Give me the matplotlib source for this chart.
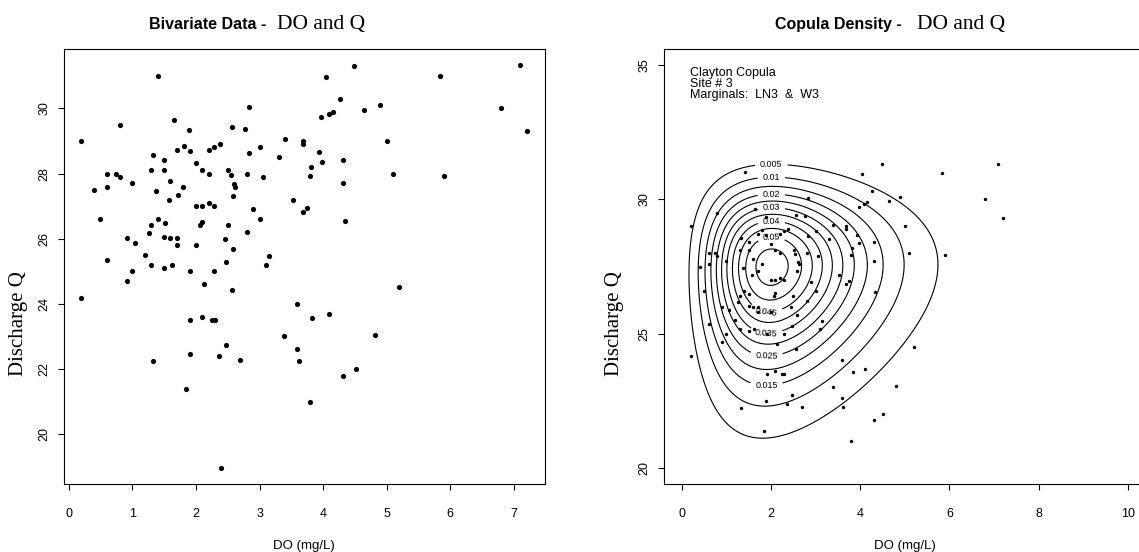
import math
import numpy as np
import matplotlib
matplotlib.use("Agg")
import matplotlib.pyplot as plt

plt.rcParams['font.family'] = ['Liberation Sans', 'DejaVu Sans']

# observed data: dissolved oxygen (mg/L) and discharge
do_vals = [1.41, 2.83, 1.65, 0.80, 1.89, 2.56, 2.77, 0.20, 3.40, 3.69,
           3.69, 1.32, 1.70, 1.81, 1.90, 2.20, 2.29, 2.38, 2.83, 3.00,
           3.30, 1.50, 2.00, 1.30, 1.50, 2.09, 2.20, 2.51, 2.55, 2.80,
           3.05, 0.61, 0.74, 0.80, 1.00, 0.40, 0.61, 1.60, 1.80, 1.38,
           1.72, 1.57, 2.60, 2.62, 2.59, 2.00, 2.09, 2.20, 2.29, 2.89,
           0.50, 1.40, 1.30, 1.52, 2.06, 2.09, 2.50, 3.00, 1.26, 2.80,
           0.91, 1.05, 1.50, 1.60, 1.70, 1.70, 2.00, 2.45, 2.59, 1.20,
           3.15, 0.61, 3.53, 3.69, 3.74,
           4.48, 4.05, 5.84, 7.09, 4.27, 3.97, 4.09, 4.15, 4.64, 4.89,
           6.79, 7.20, 5.00, 3.94, 3.98, 4.31, 3.81, 3.80, 4.31, 5.10,
           5.90, 4.34,
           1.30, 1.50, 1.62, 1.00, 0.91, 1.91, 2.29, 2.47, 3.10, 2.13,
           2.56, 0.20, 3.59, 1.91, 2.09, 2.25, 2.30, 3.39, 2.47, 1.90,
           2.37, 2.70, 3.59, 3.62, 1.32, 1.85, 3.79, 2.39,
           5.20, 3.83, 4.10, 4.81, 4.51, 4.31]
q_vals = [31.01, 30.04, 29.66, 29.50, 29.35, 29.43, 29.37, 28.99, 29.06, 28.99,
          28.91, 28.57, 28.72, 28.86, 28.69, 28.72, 28.81, 28.91, 28.63, 28.81,
          28.51, 28.42, 28.32, 28.11, 28.11, 28.11, 27.99, 28.11, 27.95, 27.99,
          27.89, 27.99, 27.99, 27.89, 27.71, 27.50, 27.60, 27.77, 27.60, 27.46,
          27.34, 27.19, 27.67, 27.58, 27.32, 27.00, 27.00, 27.09, 27.00, 26.91,
          26.60, 26.60, 26.42, 26.48, 26.42, 26.51, 26.42, 26.60, 26.18, 26.20,
          26.01, 25.87, 26.04, 26.01, 26.01, 25.80, 25.80, 25.99, 25.69, 25.50,
          25.46, 25.35, 27.18, 26.83, 26.95,
          31.30, 30.96, 30.99, 31.33, 30.30, 29.73, 29.83, 29.90, 29.95, 30.10,
          30.01, 29.32, 29.01, 28.66, 28.36, 28.42, 28.20, 27.92, 27.71, 27.99,
          27.92, 26.54,
          25.19, 25.09, 25.19, 25.00, 24.70, 25.00, 25.00, 25.29, 25.19, 24.61,
          24.42, 24.18, 24.00, 23.50, 23.60, 23.50, 23.50, 23.01, 22.73, 22.48,
          22.39, 22.28, 22.61, 22.26, 22.24, 21.38, 20.99, 18.97,
          24.51, 23.58, 23.68, 23.04, 21.99, 21.78]

x_ticks_left = [0, 1, 2, 3, 4, 5, 6, 7]
y_ticks_left = [20, 22, 24, 26, 28, 30]
x_ticks_right = [0, 2, 4, 6, 8, 10]
y_ticks_right = [20, 25, 30, 35]

# fitted model: Clayton copula, LN3 marginal for DO, W3 marginal for Q
clayton_theta = 0.05
ln3_loc, ln3_mu, ln3_sigma = -1.65, 1.392, 0.32
w3_loc, w3_scale, w3_shape = 6.8, 20.92, 10.0
levels = [0.005, 0.01, 0.015, 0.02, 0.025, 0.03, 0.035, 0.04, 0.045, 0.05, 0.055]
top_labels = [0.005, 0.01, 0.02, 0.03, 0.04, 0.05]
bottom_labels = [0.015, 0.025, 0.035, 0.045]

W, H = 1139, 552
fig = plt.figure(figsize=(W / 100, H / 100), dpi=100)


def fx(px):
    return px / W


def fy(py):
    return 1 - py / H


ax1 = fig.add_axes([fx(63.6), fy(484), (544.5 - 63.6) / W, (484 - 49) / H])
ax2 = fig.add_axes([fx(663.8), fy(484), (1145.8 - 663.8) / W, (484 - 49) / H])

for ax in (ax1, ax2):
    for s in ax.spines.values():
        s.set_linewidth(0.8)
        s.set_color('black')
    ax.tick_params(direction='out', length=4.5, width=0.8, labelsize=9)
    ax.tick_params(axis='x', pad=13)
    ax.tick_params(axis='y', pad=5)

# left: raw data
ax1.scatter(do_vals, q_vals, s=14, c='black', linewidths=0)
ax1.margins(0.04)
ax1.set_xticks(x_ticks_left)
ax1.set_yticks(y_ticks_left)
ax1.set_yticklabels([str(v) for v in y_ticks_left], rotation=90, va='center')

# right: copula density
xg = np.linspace(-0.4, 10.4, 400)
yg = np.linspace(19.4, 35.6, 400)
erf = np.vectorize(math.erf)

z = np.clip(xg - ln3_loc, 1e-9, None)
w = (np.log(z) - ln3_mu) / ln3_sigma
f1 = np.exp(-0.5 * w ** 2) / (z * ln3_sigma * np.sqrt(2 * np.pi))
F1 = 0.5 * (1 + erf(w / np.sqrt(2)))

t = np.clip((yg - w3_loc) / w3_scale, 1e-9, None)
f2 = w3_shape / w3_scale * t ** (w3_shape - 1) * np.exp(-t ** w3_shape)
F2 = 1 - np.exp(-t ** w3_shape)

U, V = np.meshgrid(np.clip(F1, 1e-10, 1 - 1e-10), np.clip(F2, 1e-10, 1 - 1e-10))
th = clayton_theta
cop = (1 + th) * (U * V) ** (-th - 1) * (U ** -th + V ** -th - 1) ** (-2 - 1 / th)
D = cop * f2[:, None] * f1[None, :]
X, Y = np.meshgrid(xg, yg)

cs = ax2.contour(X, Y, D, levels=levels, colors='black', linewidths=0.8)
peak_y = Y.flat[np.argmax(D)]
lab_levels, pos = [], []
for i, lv in enumerate(cs.levels):
    segs = [s for s in cs.allsegs[i] if len(s)]
    if not segs:
        continue
    pts = np.vstack(segs)
    if any(abs(lv - v) < 1e-9 for v in top_labels):
        p = pts[pts[:, 1] > peak_y]
        pos.append(tuple(p[np.argmin(abs(p[:, 0] - 2.0))]))
        lab_levels.append(lv)
    elif any(abs(lv - v) < 1e-9 for v in bottom_labels):
        p = pts[pts[:, 1] < peak_y]
        pos.append(tuple(p[np.argmin(abs(p[:, 0] - 1.9))]))
        lab_levels.append(lv)
ax2.clabel(cs, levels=lab_levels, manual=pos, inline=True, fontsize=6.5,
           fmt=lambda v: f'{v:g}')

ax2.scatter(do_vals, q_vals, s=6, c='black', linewidths=0)
ax2.set_xlim(-0.4, 10.4)
ax2.set_ylim(19.4, 35.6)
ax2.set_xticks(x_ticks_right)
ax2.set_yticks(y_ticks_right)
ax2.set_yticklabels([str(v) for v in y_ticks_right], rotation=90, va='center')

# titles and labels
fig.text(fx(271), fy(29), 'Bivariate Data - ', fontsize=11.5, fontweight='bold',
         ha='right', va='baseline')
fig.text(fx(277), fy(29), 'DO and Q', fontsize=15.5, family='Liberation Serif',
         ha='left', va='baseline')
fig.text(fx(906), fy(29), 'Copula Density - ', fontsize=11.5, fontweight='bold',
         ha='right', va='baseline')
fig.text(fx(917), fy(29), 'DO and Q', fontsize=15.5, family='Liberation Serif',
         ha='left', va='baseline')

for xc in (18.3, 615):
    fig.text(fx(xc), fy(324), 'Discharge Q', fontsize=15, family='Liberation Serif',
             rotation=90, ha='center', va='center')
for xc in (304.3, 904.5):
    fig.text(fx(xc), fy(546), 'DO (mg/L)', fontsize=9.5, ha='center', va='center')

info = ['Clayton Copula', 'Site # 3', 'Marginals:  LN3  &  W3']
for line, yc in zip(info, (72.7, 84.3, 95.2)):
    fig.text(fx(690), fy(yc), line, fontsize=9, ha='left', va='center')

fig.savefig('out.png', dpi=100)
